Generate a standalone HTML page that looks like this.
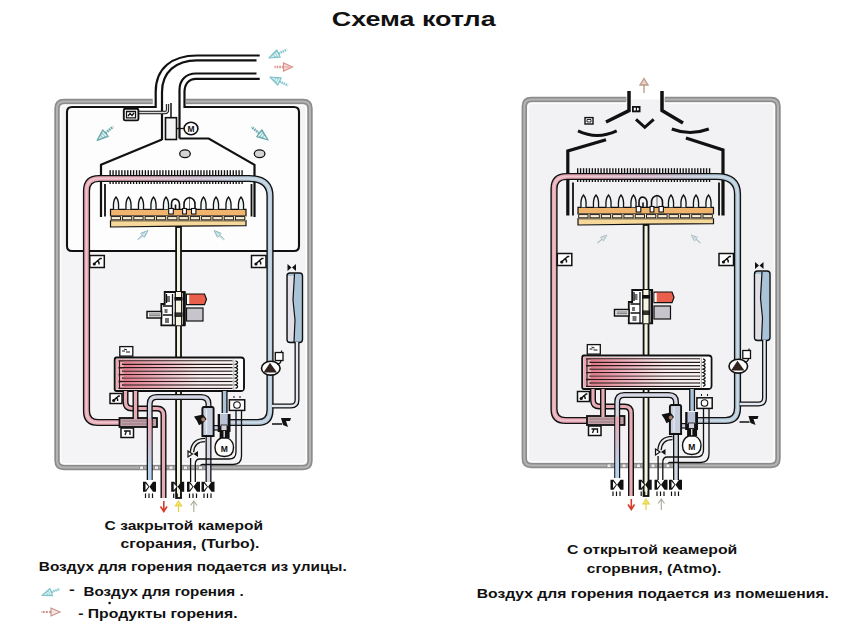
<!DOCTYPE html><html><head><meta charset="utf-8"><style>html,body{margin:0;padding:0;background:#fff;}svg{display:block}</style></head><body>
<svg width="850" height="633" viewBox="0 0 850 633">
<defs><linearGradient id="gpb" gradientUnits="userSpaceOnUse" x1="110" y1="0" x2="250" y2="0"><stop offset="0" stop-color="#e8aab6"/><stop offset="0.55" stop-color="#c8b2c4"/><stop offset="1" stop-color="#b6cbdb"/></linearGradient><linearGradient id="gpb2" gradientUnits="userSpaceOnUse" x1="0" y1="422" x2="0" y2="470"><stop offset="0" stop-color="#eba9b4"/><stop offset="1" stop-color="#b4d4f0"/></linearGradient><linearGradient id="ghe" gradientUnits="userSpaceOnUse" x1="116" y1="0" x2="244" y2="0"><stop offset="0" stop-color="#eaa8b2"/><stop offset="0.3" stop-color="#f0ccd2"/><stop offset="0.6" stop-color="#f8f0f2"/><stop offset="1" stop-color="#f8f8f8"/></linearGradient><linearGradient id="ghe2" gradientUnits="userSpaceOnUse" x1="116" y1="0" x2="244" y2="0"><stop offset="0" stop-color="#e06a7c"/><stop offset="0.35" stop-color="#f0b0bc"/><stop offset="0.65" stop-color="#f6eef0"/><stop offset="1" stop-color="#fafafa"/></linearGradient></defs>
<rect width="850" height="633" fill="#fff"/>
<rect x="57" y="101.5" width="253" height="366" rx="9" fill="#f4f4f6"/>
<path d="M186 101.5 H303 Q310 101.5 310 108.5 V460.5 Q310 467.5 303 467.5 H64 Q57 467.5 57 460.5 V108.5 Q57 101.5 64 101.5 H152.7" fill="none" stroke="#8c8c8c" stroke-width="5.4"/>
<path d="M186 101.5 H303 Q310 101.5 310 108.5 V460.5 Q310 467.5 303 467.5 H64 Q57 467.5 57 460.5 V108.5 Q57 101.5 64 101.5 H152.7" fill="none" stroke="#b4b4b4" stroke-width="2"/>
<rect x="60.8" y="105.3" width="245.4" height="358.4" rx="4" fill="none" stroke="#fcfcfc" stroke-width="1.6"/>
<path d="M184.5 107 H294 Q299 107 299 112 V246 Q299 251 294 251 H72 Q67 251 67 246 V112 Q67 107 72 107 H155.7 Z" fill="#fdfdfd" stroke="none"/>
<path d="M184.5 107 H294 Q299 107 299 112 V246 Q299 251 294 251 H72 Q67 251 67 246 V112 Q67 107 72 107 H155.7" fill="none" stroke="#111" stroke-width="2.1"/>
<rect x="156.8" y="102" width="26.6" height="10" fill="#fdfdfd"/>
<path d="M155.7 108 V92 C155.7 68 172 55.5 197 55.5 H259.7" fill="none" stroke="#111" stroke-width="2.2"/>
<path d="M162 140 V92 C162 72 176 60.3 197 60.3 H256.5" fill="none" stroke="#111" stroke-width="2.2"/>
<path d="M179.5 138.5 V90 C179.5 80 186 73.5 196 73.5 H256.5" fill="none" stroke="#111" stroke-width="2.2"/>
<path d="M184.5 108 V92 C184.5 84 189 78.8 196 78.8 H259.7" fill="none" stroke="#111" stroke-width="2.2"/>
<path d="M162 139.5 L101 164.8 V217" fill="none" stroke="#111" stroke-width="2.2"/>
<path d="M179.5 138.5 H208.7 L254.5 164.8 V217" fill="none" stroke="#111" stroke-width="2.2"/>
<path d="M105 184 V216.5 M251.5 184 V216.5" stroke="#111" stroke-width="1.8"/>
<rect x="165.5" y="117.7" width="11" height="21.8" fill="#f4f4f6" stroke="#111" stroke-width="1.6"/>
<path d="M171 103 V117.7" stroke="#111" stroke-width="1.5"/>
<path d="M138.2 112.5 H165 Q167.5 112.5 167.5 110 V104" fill="none" stroke="#111" stroke-width="3.3"/>
<path d="M138.2 112.5 H165 Q167.5 112.5 167.5 110 V104" fill="none" stroke="#ddd" stroke-width="1.3"/>
<rect x="123.8" y="108.8" width="14.6" height="11.6" rx="1.5" fill="#fff" stroke="#111" stroke-width="1.9"/>
<path d="M126.5 111.5 H135.5 V117.8 H126.5 Z" fill="none" stroke="#111" stroke-width="1.3"/><path d="M128 116 L130 113.5 L132 115.5 L134 113" fill="none" stroke="#111" stroke-width="1.3"/>
<path d="M176.5 128.5 H184" stroke="#111" stroke-width="1.3"/>
<ellipse cx="191" cy="128.5" rx="6.9" ry="6.2" fill="#fff" stroke="#111" stroke-width="1.6"/>
<text x="191" y="131.8" font-family="Liberation Sans" font-weight="bold" font-size="8.4" text-anchor="middle" fill="#111">M</text>
<ellipse cx="185" cy="153.7" rx="5.3" ry="3.9" fill="#d4d4d6" stroke="#111" stroke-width="1.3"/>
<ellipse cx="259.6" cy="153.7" rx="5.3" ry="3.9" fill="#d4d4d6" stroke="#111" stroke-width="1.3"/>
<g transform="translate(97.2,140.4) rotate(139) scale(1.0)"><path d="M0 0 L-11 -4.2 L-11 4.2 Z" fill="#e2f4f4" stroke="#6aaaae" stroke-width="1.3" stroke-linejoin="round"/><path d="M-3 -0.8 L-9 -2.6 M-3.5 0.9 L-9 2.6 M-6 -2 V2 M-8.5 -3 V3" stroke="#6aaaae" stroke-width="0.7"/><path d="M-11 0 H-21" stroke="#6aaaae" stroke-width="2.6" stroke-dasharray="1.6 0.8"/></g>
<g transform="translate(268,140) rotate(38) scale(1.0)"><path d="M0 0 L-11 -4.2 L-11 4.2 Z" fill="#e2f4f4" stroke="#6aaaae" stroke-width="1.3" stroke-linejoin="round"/><path d="M-3 -0.8 L-9 -2.6 M-3.5 0.9 L-9 2.6 M-6 -2 V2 M-8.5 -3 V3" stroke="#6aaaae" stroke-width="0.7"/><path d="M-11 0 H-21" stroke="#6aaaae" stroke-width="2.6" stroke-dasharray="1.6 0.8"/></g>
<g transform="translate(148,230.5) rotate(-42) scale(0.66)"><path d="M0 0 L-11 -4.2 L-11 4.2 Z" fill="#e2f4f4" stroke="#88b4bc" stroke-width="1.2" stroke-linejoin="round"/><path d="M-3 -0.8 L-9 -2.6 M-3.5 0.9 L-9 2.6 M-6 -2 V2 M-8.5 -3 V3" stroke="#88b4bc" stroke-width="0.7"/><path d="M-11 0 H-21" stroke="#88b4bc" stroke-width="2.5" stroke-dasharray="1.6 0.8"/></g>
<g transform="translate(214,230.5) rotate(-138) scale(0.66)"><path d="M0 0 L-11 -4.2 L-11 4.2 Z" fill="#e2f4f4" stroke="#88b4bc" stroke-width="1.2" stroke-linejoin="round"/><path d="M-3 -0.8 L-9 -2.6 M-3.5 0.9 L-9 2.6 M-6 -2 V2 M-8.5 -3 V3" stroke="#88b4bc" stroke-width="0.7"/><path d="M-11 0 H-21" stroke="#88b4bc" stroke-width="2.5" stroke-dasharray="1.6 0.8"/></g>
<g transform="translate(269,58) rotate(155) scale(0.95)"><path d="M0 0 L-11 -4.2 L-11 4.2 Z" fill="#e2f4f4" stroke="#7fc4cc" stroke-width="1.3" stroke-linejoin="round"/><path d="M-3 -0.8 L-9 -2.6 M-3.5 0.9 L-9 2.6 M-6 -2 V2 M-8.5 -3 V3" stroke="#7fc4cc" stroke-width="0.7"/><path d="M-11 0 H-21" stroke="#7fc4cc" stroke-width="2.6" stroke-dasharray="1.6 0.8"/></g>
<g transform="translate(292.5,67) scale(1)"><path d="M0 0 L-9 -4 L-9 4 Z" fill="#f8e0dc" stroke="#d89088" stroke-width="1.2"/><path d="M-3 0 H-8" stroke="#d89088" stroke-width="0.9"/><path d="M-9 0 H-18" stroke="#d89088" stroke-width="2.4" stroke-dasharray="1.6 1"/></g>
<g transform="translate(270,77) rotate(205) scale(0.95)"><path d="M0 0 L-11 -4.2 L-11 4.2 Z" fill="#e2f4f4" stroke="#7fc4cc" stroke-width="1.3" stroke-linejoin="round"/><path d="M-3 -0.8 L-9 -2.6 M-3.5 0.9 L-9 2.6 M-6 -2 V2 M-8.5 -3 V3" stroke="#7fc4cc" stroke-width="0.7"/><path d="M-11 0 H-21" stroke="#7fc4cc" stroke-width="2.6" stroke-dasharray="1.6 0.8"/></g>
<path d="M120 422.5 H98 Q86.5 422.5 86.5 411 V191 Q86.5 178.5 99 178.5 H249 Q270 178.5 270 196 V410 Q270 422.5 258 422.5 H228" fill="none" stroke="#111" stroke-width="7.2" stroke-linejoin="round"/>
<path d="M120 422.5 H98 Q86.5 422.5 86.5 411 V191 Q86.5 178.5 99 178.5 H249 Q270 178.5 270 196 V410 Q270 422.5 258 422.5 H228" fill="none" stroke="url(#gpb)" stroke-width="4.4" stroke-linejoin="round"/>
<path d="M120 422.5 H98 Q86.5 422.5 86.5 411 V191 Q86.5 178.5 99 178.5 H249 Q270 178.5 270 196 V410 Q270 422.5 258 422.5 H228" fill="none" stroke="#fff" stroke-opacity="0.35" stroke-width="1.3" stroke-linejoin="round"/>
<rect x="109.5" y="170.2" width="1.35" height="5.6" fill="#111"/>
<rect x="109.5" y="181" width="1.35" height="3" fill="#111"/>
<rect x="112.4" y="170.2" width="1.35" height="5.6" fill="#111"/>
<rect x="112.4" y="181" width="1.35" height="3" fill="#111"/>
<rect x="115.4" y="170.2" width="1.35" height="5.6" fill="#111"/>
<rect x="115.4" y="181" width="1.35" height="3" fill="#111"/>
<rect x="118.3" y="170.2" width="1.35" height="5.6" fill="#111"/>
<rect x="118.3" y="181" width="1.35" height="3" fill="#111"/>
<rect x="121.2" y="170.2" width="1.35" height="5.6" fill="#111"/>
<rect x="121.2" y="181" width="1.35" height="3" fill="#111"/>
<rect x="124.2" y="170.2" width="1.35" height="5.6" fill="#111"/>
<rect x="124.2" y="181" width="1.35" height="3" fill="#111"/>
<rect x="127.1" y="170.2" width="1.35" height="5.6" fill="#111"/>
<rect x="127.1" y="181" width="1.35" height="3" fill="#111"/>
<rect x="130.0" y="170.2" width="1.35" height="5.6" fill="#111"/>
<rect x="130.0" y="181" width="1.35" height="3" fill="#111"/>
<rect x="132.9" y="170.2" width="1.35" height="5.6" fill="#111"/>
<rect x="132.9" y="181" width="1.35" height="3" fill="#111"/>
<rect x="135.9" y="170.2" width="1.35" height="5.6" fill="#111"/>
<rect x="135.9" y="181" width="1.35" height="3" fill="#111"/>
<rect x="138.8" y="170.2" width="1.35" height="5.6" fill="#111"/>
<rect x="138.8" y="181" width="1.35" height="3" fill="#111"/>
<rect x="141.7" y="170.2" width="1.35" height="5.6" fill="#111"/>
<rect x="141.7" y="181" width="1.35" height="3" fill="#111"/>
<rect x="144.7" y="170.2" width="1.35" height="5.6" fill="#111"/>
<rect x="144.7" y="181" width="1.35" height="3" fill="#111"/>
<rect x="147.6" y="170.2" width="1.35" height="5.6" fill="#111"/>
<rect x="147.6" y="181" width="1.35" height="3" fill="#111"/>
<rect x="150.5" y="170.2" width="1.35" height="5.6" fill="#111"/>
<rect x="150.5" y="181" width="1.35" height="3" fill="#111"/>
<rect x="153.5" y="170.2" width="1.35" height="5.6" fill="#111"/>
<rect x="153.5" y="181" width="1.35" height="3" fill="#111"/>
<rect x="156.4" y="170.2" width="1.35" height="5.6" fill="#111"/>
<rect x="156.4" y="181" width="1.35" height="3" fill="#111"/>
<rect x="159.3" y="170.2" width="1.35" height="5.6" fill="#111"/>
<rect x="159.3" y="181" width="1.35" height="3" fill="#111"/>
<rect x="162.2" y="170.2" width="1.35" height="5.6" fill="#111"/>
<rect x="162.2" y="181" width="1.35" height="3" fill="#111"/>
<rect x="165.2" y="170.2" width="1.35" height="5.6" fill="#111"/>
<rect x="165.2" y="181" width="1.35" height="3" fill="#111"/>
<rect x="168.1" y="170.2" width="1.35" height="5.6" fill="#111"/>
<rect x="168.1" y="181" width="1.35" height="3" fill="#111"/>
<rect x="171.0" y="170.2" width="1.35" height="5.6" fill="#111"/>
<rect x="171.0" y="181" width="1.35" height="3" fill="#111"/>
<rect x="174.0" y="170.2" width="1.35" height="5.6" fill="#111"/>
<rect x="174.0" y="181" width="1.35" height="3" fill="#111"/>
<rect x="176.9" y="170.2" width="1.35" height="5.6" fill="#111"/>
<rect x="176.9" y="181" width="1.35" height="3" fill="#111"/>
<rect x="179.8" y="170.2" width="1.35" height="5.6" fill="#111"/>
<rect x="179.8" y="181" width="1.35" height="3" fill="#111"/>
<rect x="182.8" y="170.2" width="1.35" height="5.6" fill="#111"/>
<rect x="182.8" y="181" width="1.35" height="3" fill="#111"/>
<rect x="185.7" y="170.2" width="1.35" height="5.6" fill="#111"/>
<rect x="185.7" y="181" width="1.35" height="3" fill="#111"/>
<rect x="188.6" y="170.2" width="1.35" height="5.6" fill="#111"/>
<rect x="188.6" y="181" width="1.35" height="3" fill="#111"/>
<rect x="191.5" y="170.2" width="1.35" height="5.6" fill="#111"/>
<rect x="191.5" y="181" width="1.35" height="3" fill="#111"/>
<rect x="194.5" y="170.2" width="1.35" height="5.6" fill="#111"/>
<rect x="194.5" y="181" width="1.35" height="3" fill="#111"/>
<rect x="197.4" y="170.2" width="1.35" height="5.6" fill="#111"/>
<rect x="197.4" y="181" width="1.35" height="3" fill="#111"/>
<rect x="200.3" y="170.2" width="1.35" height="5.6" fill="#111"/>
<rect x="200.3" y="181" width="1.35" height="3" fill="#111"/>
<rect x="203.3" y="170.2" width="1.35" height="5.6" fill="#111"/>
<rect x="203.3" y="181" width="1.35" height="3" fill="#111"/>
<rect x="206.2" y="170.2" width="1.35" height="5.6" fill="#111"/>
<rect x="206.2" y="181" width="1.35" height="3" fill="#111"/>
<rect x="209.1" y="170.2" width="1.35" height="5.6" fill="#111"/>
<rect x="209.1" y="181" width="1.35" height="3" fill="#111"/>
<rect x="212.1" y="170.2" width="1.35" height="5.6" fill="#111"/>
<rect x="212.1" y="181" width="1.35" height="3" fill="#111"/>
<rect x="215.0" y="170.2" width="1.35" height="5.6" fill="#111"/>
<rect x="215.0" y="181" width="1.35" height="3" fill="#111"/>
<rect x="217.9" y="170.2" width="1.35" height="5.6" fill="#111"/>
<rect x="217.9" y="181" width="1.35" height="3" fill="#111"/>
<rect x="220.8" y="170.2" width="1.35" height="5.6" fill="#111"/>
<rect x="220.8" y="181" width="1.35" height="3" fill="#111"/>
<rect x="223.8" y="170.2" width="1.35" height="5.6" fill="#111"/>
<rect x="223.8" y="181" width="1.35" height="3" fill="#111"/>
<rect x="226.7" y="170.2" width="1.35" height="5.6" fill="#111"/>
<rect x="226.7" y="181" width="1.35" height="3" fill="#111"/>
<rect x="229.6" y="170.2" width="1.35" height="5.6" fill="#111"/>
<rect x="229.6" y="181" width="1.35" height="3" fill="#111"/>
<rect x="232.6" y="170.2" width="1.35" height="5.6" fill="#111"/>
<rect x="232.6" y="181" width="1.35" height="3" fill="#111"/>
<rect x="235.5" y="170.2" width="1.35" height="5.6" fill="#111"/>
<rect x="235.5" y="181" width="1.35" height="3" fill="#111"/>
<rect x="238.4" y="170.2" width="1.35" height="5.6" fill="#111"/>
<rect x="238.4" y="181" width="1.35" height="3" fill="#111"/>
<rect x="241.4" y="170.2" width="1.35" height="5.6" fill="#111"/>
<rect x="241.4" y="181" width="1.35" height="3" fill="#111"/>
<path d="M110.5 209.3 H246 V215.8 H110.5 Z" fill="#f1b46c" stroke="#111" stroke-width="1.2"/>
<path d="M110.5 220.6 H246 V225.6 L180 226.2 L110.5 227 Z" fill="#f6d99a" stroke="#111" stroke-width="1.2"/>
<rect x="110.5" y="215.8" width="135.5" height="4.8" fill="#f8dcae"/>
<rect x="111.2" y="216.6" width="9.3" height="3.2" fill="#fbeed8" stroke="#111" stroke-width="0.9"/>
<rect x="122.5" y="216.6" width="9.3" height="3.2" fill="#fbeed8" stroke="#111" stroke-width="0.9"/>
<rect x="133.8" y="216.6" width="9.3" height="3.2" fill="#fbeed8" stroke="#111" stroke-width="0.9"/>
<rect x="145.1" y="216.6" width="9.3" height="3.2" fill="#fbeed8" stroke="#111" stroke-width="0.9"/>
<rect x="156.4" y="216.6" width="9.3" height="3.2" fill="#fbeed8" stroke="#111" stroke-width="0.9"/>
<rect x="167.7" y="216.6" width="9.3" height="3.2" fill="#fbeed8" stroke="#111" stroke-width="0.9"/>
<rect x="179.0" y="216.6" width="9.3" height="3.2" fill="#fbeed8" stroke="#111" stroke-width="0.9"/>
<rect x="190.3" y="216.6" width="9.3" height="3.2" fill="#fbeed8" stroke="#111" stroke-width="0.9"/>
<rect x="201.6" y="216.6" width="9.3" height="3.2" fill="#fbeed8" stroke="#111" stroke-width="0.9"/>
<rect x="212.9" y="216.6" width="9.3" height="3.2" fill="#fbeed8" stroke="#111" stroke-width="0.9"/>
<rect x="224.2" y="216.6" width="9.3" height="3.2" fill="#fbeed8" stroke="#111" stroke-width="0.9"/>
<rect x="235.5" y="216.6" width="9.3" height="3.2" fill="#fbeed8" stroke="#111" stroke-width="0.9"/>
<path d="M113.5 209.3 Q112.8 200.5 116.0 197 Q119.2 200.5 118.5 209.3" fill="#eef6f8" stroke="#111" stroke-width="1.3"/>
<path d="M126.0 209.3 Q125.3 200.5 128.5 197 Q131.7 200.5 131.0 209.3" fill="#eef6f8" stroke="#111" stroke-width="1.3"/>
<path d="M138.5 209.3 Q137.8 200.5 141.0 197 Q144.2 200.5 143.5 209.3" fill="#eef6f8" stroke="#111" stroke-width="1.3"/>
<path d="M151.0 209.3 Q150.3 200.5 153.5 197 Q156.7 200.5 156.0 209.3" fill="#eef6f8" stroke="#111" stroke-width="1.3"/>
<path d="M163.5 209.3 Q162.8 200.5 166.0 197 Q169.2 200.5 168.5 209.3" fill="#eef6f8" stroke="#111" stroke-width="1.3"/>
<path d="M201.0 209.3 Q200.3 200.5 203.5 197 Q206.7 200.5 206.0 209.3" fill="#eef6f8" stroke="#111" stroke-width="1.3"/>
<path d="M213.5 209.3 Q212.8 200.5 216.0 197 Q219.2 200.5 218.5 209.3" fill="#eef6f8" stroke="#111" stroke-width="1.3"/>
<path d="M226.0 209.3 Q225.3 200.5 228.5 197 Q231.7 200.5 231.0 209.3" fill="#eef6f8" stroke="#111" stroke-width="1.3"/>
<path d="M238.5 209.3 Q237.8 200.5 241.0 197 Q244.2 200.5 243.5 209.3" fill="#eef6f8" stroke="#111" stroke-width="1.3"/>
<path d="M171.5 209 V204 Q171.5 199.5 175 199 Q179 199.5 179.5 204 V209" fill="none" stroke="#111" stroke-width="1.6"/>
<path d="M175.5 209 V204.5" stroke="#111" stroke-width="1.6"/>
<path d="M184 209 V204.5 Q184 198.5 189.5 197.5 Q195 198.5 195 204.5 V209" fill="none" stroke="#111" stroke-width="1.6"/>
<path d="M189.5 197.5 V209" stroke="#111" stroke-width="1" opacity="0.6"/>
<rect x="168.7" y="208.5" width="4.6" height="5.5" fill="#fff" stroke="#111" stroke-width="1.1"/>
<rect x="182.6" y="208.5" width="3.8" height="5.5" fill="#fff" stroke="#111" stroke-width="1.1"/>
<rect x="191.5" y="208.5" width="4.4" height="5.5" fill="#fff" stroke="#111" stroke-width="1.1"/>
<rect x="176.1" y="227" width="4.9" height="271" fill="#f6f4e2" stroke="#111" stroke-width="1.8"/>
<path d="M164.7 292 H184.7 V325.3 H161.3 V304 H164.7 Z" fill="#fff" stroke="#111" stroke-width="1.8"/>
<path d="M166.5 294 V303 M163 306 H173 M163 315 H172 M172.5 294 V325" stroke="#111" stroke-width="1.3"/>
<path d="M167 296 h3 v6 h-3 Z M164.5 309 h3 v4 h-3 Z M165 318 h4 v5 h-4 Z" fill="#111" opacity="0.6"/>
<rect x="175.3" y="292" width="6.4" height="33.3" fill="#f6f4e2"/>
<path d="M175.3 292 V325.3 M181.7 292 V325.3" stroke="#111" stroke-width="1.3"/>
<rect x="174.5" y="297" width="8" height="3.6" fill="#111"/>
<rect x="174.5" y="312.4" width="8" height="4.6" fill="#111" opacity="0.85"/>
<rect x="183" y="292" width="2.5" height="33.3" fill="#111"/>
<rect x="147" y="311.5" width="14.5" height="6.5" fill="#fff" stroke="#111" stroke-width="1.5"/>
<path d="M149 314 H160 M149 315.8 H160" stroke="#111" stroke-width="0.7"/>
<path d="M186.5 294 H204.5 L206.5 299.3 L204.5 304.7 H186.5 Z" fill="#ea5f4c" stroke="#111" stroke-width="1.2"/>
<rect x="187" y="295" width="2.2" height="9" fill="#fff"/>
<rect x="186.5" y="308" width="16.5" height="13" fill="#c8c4cb" stroke="#111" stroke-width="1.2"/>
<rect x="287" y="273" width="15.5" height="69.5" rx="3" fill="#a9c4d8" stroke="#111" stroke-width="1.4"/>
<path d="M288 276 H294.5 L293 300 L295 320 L294 341 H288 Z" fill="#e2dfe6"/>
<path d="M294.5 274 L293 300 L295 320 L294 342" fill="none" stroke="#111" stroke-width="1.2"/>
<path d="M287.5 264 L291.5 267.5 L287.5 271 Z M296 264 L292 267.5 L296 271 Z" fill="#111"/>
<path d="M297 342 V400 Q297 406 291 406 H272" fill="none" stroke="#111" stroke-width="5" stroke-linejoin="round" />
<path d="M297 342 V400 Q297 406 291 406 H272" fill="none" stroke="#e4e8f0" stroke-width="2.4" stroke-linejoin="round" />
<path d="M272 424 H282" stroke="#111" stroke-width="1.5"/>
<path d="M281 418 L291 418 L290 421 L286 421 L288 427 L283 425 Z" fill="#111"/>
<ellipse cx="270.8" cy="368.2" rx="9.3" ry="6.9" fill="#fff" stroke="#111" stroke-width="1.6"/>
<path d="M263.5 372.5 L270 362.8 L277 372.5 Z" fill="#33231f"/>
<path d="M277 364 Q281 364 281 360" fill="none" stroke="#111" stroke-width="1.3"/>
<rect x="275.3" y="352.5" width="7.7" height="8" fill="#fff" stroke="#111" stroke-width="1.3"/>
<path d="M281.5 352.5 V350.5" stroke="#111" stroke-width="1.2"/>
<path d="M116.5 357.5 H241 Q244 357.5 244 360.5 V387.5 Q244 391 240.5 391 H116.5 Q114.7 391 114.7 389 V360 Q114.7 357.5 116.5 357.5 Z" fill="#fff" stroke="#111" stroke-width="1.9"/>
<rect x="116" y="359" width="126.5" height="30.5" fill="url(#ghe)"/>
<path d="M118.5 360.80 H232.5" stroke="#2a1818" stroke-width="1.35"/>
<path d="M122 364.25 H232.5" stroke="#2a1818" stroke-width="1.35"/>
<path d="M118.5 367.70 H232.5" stroke="#2a1818" stroke-width="1.35"/>
<path d="M122 371.15 H232.5" stroke="#2a1818" stroke-width="1.35"/>
<path d="M118.5 374.60 H232.5" stroke="#2a1818" stroke-width="1.35"/>
<path d="M122 378.05 H232.5" stroke="#2a1818" stroke-width="1.35"/>
<path d="M118.5 381.50 H232.5" stroke="#2a1818" stroke-width="1.35"/>
<path d="M122 384.95 H232.5" stroke="#2a1818" stroke-width="1.35"/>
<path d="M118.5 388.40 H232.5" stroke="#2a1818" stroke-width="1.35"/>
<path d="M123.5 362.50 H232" stroke="url(#ghe2)" stroke-width="1.9"/>
<path d="M123.5 365.95 H232" stroke="url(#ghe2)" stroke-width="1.9"/>
<path d="M123.5 369.40 H232" stroke="url(#ghe2)" stroke-width="1.9"/>
<path d="M123.5 372.85 H232" stroke="url(#ghe2)" stroke-width="1.9"/>
<path d="M123.5 376.30 H232" stroke="url(#ghe2)" stroke-width="1.9"/>
<path d="M123.5 379.75 H232" stroke="url(#ghe2)" stroke-width="1.9"/>
<path d="M123.5 383.20 H232" stroke="url(#ghe2)" stroke-width="1.9"/>
<path d="M123.5 386.65 H232" stroke="url(#ghe2)" stroke-width="1.9"/>
<path d="M119.5 361 V389" stroke="#2a1818" stroke-width="1.1"/>
<rect x="233" y="359" width="9.8" height="31" fill="#fff"/>
<path d="M233.8 359.5 V391" stroke="#111" stroke-width="0.7" opacity="0.5"/>
<path d="M235.5 360.8 Q239.8 362.50 235.5 364.25 Q239.8 365.95 235.5 367.70 Q239.8 369.40 235.5 371.15 Q239.8 372.85 235.5 374.60 Q239.8 376.30 235.5 378.05 Q239.8 379.75 235.5 381.50 Q239.8 383.20 235.5 384.95 Q239.8 386.65 235.5 388.40" fill="none" stroke="#111" stroke-width="1.3"/>
<rect x="119.8" y="346.6" width="13" height="9.5" fill="#fff" stroke="#111" stroke-width="1.3"/>
<path d="M122 351 h3 M126 352 h4 M124 349 l3 1" stroke="#111" stroke-width="1"/>
<rect x="119.5" y="418" width="37.5" height="9" fill="#c2a0a8" stroke="#111" stroke-width="1.8"/>
<path d="M122 421 H154 M122 424 H154" stroke="#8a7078" stroke-width="0.8"/>
<rect x="121" y="428" width="12.5" height="9.5" fill="#fff" stroke="#111" stroke-width="1.5"/>
<path d="M124 431 H130 V435 M126.5 431 L125 435" fill="none" stroke="#111" stroke-width="1.3"/>
<path d="M125.5 391 V402 Q125.5 408.5 132 408.5 H157 Q163.5 408.5 163.5 415 V498" fill="none" stroke="#111" stroke-width="6" stroke-linejoin="round" />
<path d="M125.5 391 V402 Q125.5 408.5 132 408.5 H157 Q163.5 408.5 163.5 415 V498" fill="none" stroke="#e8acb7" stroke-width="3.2" stroke-linejoin="round" />
<path d="M135.5 391 V419" fill="none" stroke="#111" stroke-width="6" stroke-linejoin="round" />
<path d="M135.5 391 V419" fill="none" stroke="#e8acb7" stroke-width="3.2" stroke-linejoin="round" />
<path d="M149.7 480 V404 Q149.7 397 156.7 397 H201 Q208.5 397 208.5 404 V482" fill="none" stroke="#111" stroke-width="6" stroke-linejoin="round" />
<path d="M149.7 480 V404 Q149.7 397 156.7 397 H201 Q208.5 397 208.5 404 V482" fill="none" stroke="#d4d6e4" stroke-width="3.4" stroke-linejoin="round" />
<path d="M149.7 418.5 V480" stroke="url(#gpb2)" stroke-width="3.4"/>
<path d="M224.6 391 V413" fill="none" stroke="#111" stroke-width="6" stroke-linejoin="round" />
<path d="M224.6 391 V413" fill="none" stroke="#a9c4d8" stroke-width="3.4" stroke-linejoin="round" />
<path d="M210 427.8 H221" fill="none" stroke="#111" stroke-width="5.6" stroke-linejoin="round" />
<path d="M210 427.8 H221" fill="none" stroke="#c8d0e0" stroke-width="3.2" stroke-linejoin="round" />
<path d="M204 407 H212 Q213.6 407 213.6 409 V436 H202.4 V409 Q202.4 407 204 407 Z" fill="#c6cedd" stroke="#111" stroke-width="1.9"/>
<path d="M206.5 409 V434" stroke="#e6eaf2" stroke-width="1.3"/>
<path d="M194 416.5 L203 414.5 L206.5 419 L203 423 L199 425.3 L197 421 Z" fill="#111"/>
<circle cx="203.2" cy="419.5" r="1.9" fill="#a87a6a"/>
<path d="M217.7 414 H230.5 V432 H229.6 V438 H219.6 V432 H217.7 Z" fill="#111"/>
<rect x="220" y="414" width="7.7" height="12" fill="#b8c2d4"/>
<rect x="221" y="425" width="6" height="5.5" fill="#d6d0dc" stroke="#111" stroke-width="0.8"/>
<rect x="223.5" y="431" width="1.4" height="8" fill="#ddd"/>
<path d="M221 438 Q215 441 215 447.5 Q215 456.5 224.3 456.5 Q233.5 456.5 233.5 447.5 Q233.5 441 227.6 438 Z" fill="#fff" stroke="#111" stroke-width="1.4"/>
<text x="224.3" y="451.5" font-family="Liberation Sans" font-weight="bold" font-size="8.5" text-anchor="middle" fill="#111">M</text>
<rect x="229.4" y="399.8" width="15.3" height="10.6" fill="#fff" stroke="#111" stroke-width="1.5"/>
<circle cx="237" cy="405" r="3.3" fill="none" stroke="#111" stroke-width="1.1"/>
<path d="M234 396 V398 M240 396 V398" stroke="#111" stroke-width="1"/>
<path d="M236 410.5 V452 Q236 459 229 459 H200 Q195.3 459 195.3 464 V482" fill="none" stroke="#111" stroke-width="1.3"/>
<path d="M241.5 410.5 V456 Q241.5 464.5 233 464.5 H202 Q200 464.5 200 470" fill="none" stroke="#111" stroke-width="1.3"/>
<path d="M190.6 482 V458" fill="none" stroke="#111" stroke-width="1.3"/>
<path d="M205 440 Q193 440 192 452" fill="none" stroke="#111" stroke-width="4.5"/>
<path d="M205 440 Q193 440 192 452" fill="none" stroke="#eee" stroke-width="2"/>
<path d="M188 451 L192.5 454 L188 457 Z" fill="#fff" stroke="#111" stroke-width="1.2"/>
<path d="M198 451 L193.5 454 L198 457 Z" fill="#111"/>
<rect x="89.8" y="255.5" width="14.5" height="12" fill="#fff" stroke="#111" stroke-width="1.5"/>
<path d="M93.3 264.5 L100.3 258.5 H101.8 M96.8 261.0 q3.0 0.5 2.0 3.5" fill="none" stroke="#111" stroke-width="1.5"/>
<circle cx="94.3" cy="264.0" r="1.6" fill="#111"/>
<rect x="251.5" y="255.5" width="14.5" height="12" fill="#fff" stroke="#111" stroke-width="1.5"/>
<path d="M255.0 264.5 L262.0 258.5 H263.5 M258.5 261.0 q3.0 0.5 2.0 3.5" fill="none" stroke="#111" stroke-width="1.5"/>
<circle cx="256.0" cy="264.0" r="1.6" fill="#111"/>
<rect x="110" y="393.5" width="12" height="10" fill="#fff" stroke="#111" stroke-width="1.5"/>
<path d="M112.9 400.9 L118.7 396.0 H119.9 M115.8 398.1 q2.5 0.4 1.7 2.9" fill="none" stroke="#111" stroke-width="1.5"/>
<circle cx="113.7" cy="400.5" r="1.6" fill="#111"/>
<rect x="139.5" y="466" width="4" height="3.4" fill="#f0f0f0" stroke="#8c8c8c" stroke-width="0.9"/>
<rect x="154.5" y="466" width="4" height="3.4" fill="#f0f0f0" stroke="#8c8c8c" stroke-width="0.9"/>
<rect x="169" y="466" width="4" height="3.4" fill="#f0f0f0" stroke="#8c8c8c" stroke-width="0.9"/>
<rect x="183.5" y="466" width="4" height="3.4" fill="#f0f0f0" stroke="#8c8c8c" stroke-width="0.9"/>
<rect x="198.4" y="466" width="4" height="3.4" fill="#f0f0f0" stroke="#8c8c8c" stroke-width="0.9"/>
<path d="M143.0 481.8 h3 l3.5 5 l-3.5 5 h-3 Z M156.0 481.8 h-3 l-3.5 5 l3.5 5 h3 Z" fill="#111"/>
<path d="M145.5 483.3 L148.5 486.8 L145.5 490.3 Z" fill="#fff"/>
<path d="M145.5 493.5 V498 M149.0 493.5 V498 M152.5 493.5 V498" stroke="#111" stroke-width="1.2"/>
<path d="M171.2 481.8 h3 l3.5 5 l-3.5 5 h-3 Z M184.2 481.8 h-3 l-3.5 5 l3.5 5 h3 Z" fill="#111"/>
<path d="M173.7 483.3 L176.7 486.8 L173.7 490.3 Z" fill="#fff"/>
<path d="M173.7 493.5 V498 M177.2 493.5 V498 M180.7 493.5 V498" stroke="#111" stroke-width="1.2"/>
<path d="M187.0 481.8 h3 l3.5 5 l-3.5 5 h-3 Z M200.0 481.8 h-3 l-3.5 5 l3.5 5 h3 Z" fill="#111"/>
<path d="M189.5 483.3 L192.5 486.8 L189.5 490.3 Z" fill="#fff"/>
<path d="M189.5 493.5 V498 M193.0 493.5 V498 M196.5 493.5 V498" stroke="#111" stroke-width="1.2"/>
<path d="M201.5 481.8 h3 l3.5 5 l-3.5 5 h-3 Z M214.5 481.8 h-3 l-3.5 5 l3.5 5 h3 Z" fill="#111"/>
<path d="M204 483.3 L207 486.8 L204 490.3 Z" fill="#fff"/>
<path d="M204 493.5 V498 M207.5 493.5 V498 M211 493.5 V498" stroke="#111" stroke-width="1.2"/>
<path d="M163.8 501 V510 M160.5 506.5 L163.8 511.5 L167 506.5" fill="none" stroke="#d83a28" stroke-width="1.6"/>
<path d="M178.5 512 V504 M175.3 506 L178.5 501 L181.7 506 Z" fill="#f6ec90" stroke="#e8d040" stroke-width="1.2"/>
<path d="M193.8 512 V502 M190.6 505.5 L193.8 501 L197 505.5" fill="none" stroke="#b0b0a0" stroke-width="1.2"/>
<rect x="524.3" y="99.5" width="253.7" height="366" rx="10" fill="#f2f2f4"/>
<path d="M664.7 99.5 H771 Q778 99.5 778 106.5 V458.5 Q778 465.5 771 465.5 H531.3 Q524.3 465.5 524.3 458.5 V106.5 Q524.3 99.5 531.3 99.5 H626.4" fill="none" stroke="#8c8c8c" stroke-width="5.4"/>
<path d="M664.7 99.5 H771 Q778 99.5 778 106.5 V458.5 Q778 465.5 771 465.5 H531.3 Q524.3 465.5 524.3 458.5 V106.5 Q524.3 99.5 531.3 99.5 H626.4" fill="none" stroke="#b4b4b4" stroke-width="2"/>
<rect x="528.1" y="103.3" width="246.1" height="358.4" rx="4" fill="none" stroke="#fcfcfc" stroke-width="1.6"/>
<rect x="626.5" y="101" width="38" height="4" fill="#f2f2f4"/>
<path d="M629 91 V110.6 L606 122" fill="none" stroke="#111" stroke-width="3.5"/>
<path d="M662 91 V110.6 L683 123" fill="none" stroke="#111" stroke-width="3.5"/>
<path d="M578 130.8 Q597 140 616.7 130.8" fill="none" stroke="#111" stroke-width="3"/>
<path d="M671.8 129 Q690 136 708.8 129" fill="none" stroke="#111" stroke-width="3"/>
<path d="M636 119.4 L644.8 127.3 L653.7 119.4" fill="none" stroke="#111" stroke-width="3"/>
<path d="M606 139.7 L567.8 151 V215.5" fill="none" stroke="#111" stroke-width="3.2"/>
<path d="M685.9 138 L723 150 V215.5" fill="none" stroke="#111" stroke-width="3.2"/>
<path d="M573 182.5 V215.5 M719 182.5 V215.5" stroke="#111" stroke-width="1.8"/>
<rect x="585" y="117.6" width="8" height="6.4" fill="#fff" stroke="#111" stroke-width="1.4"/>
<path d="M587 119.5 h4 v2.5 h-4 Z" fill="none" stroke="#111" stroke-width="0.9"/>
<rect x="632" y="106" width="8.5" height="6.3" fill="#111"/>
<path d="M633.8 107.8 h2 v2.7 h-2 Z M637 107.8 q2 0 2 1.4 q0 1.4 -2 1.4 Z" fill="#fff"/>
<path d="M644 93 V84 M640 85 L644 78.5 L648 85 Z" fill="#e8d4cc" stroke="#c09c8c" stroke-width="1.4"/>
<g transform="translate(607,235) rotate(-40) scale(0.6)"><path d="M0 0 L-11 -4.2 L-11 4.2 Z" fill="#e2f4f4" stroke="#a0b0b8" stroke-width="1.0" stroke-linejoin="round"/><path d="M-3 -0.8 L-9 -2.6 M-3.5 0.9 L-9 2.6 M-6 -2 V2 M-8.5 -3 V3" stroke="#a0b0b8" stroke-width="0.7"/><path d="M-11 0 H-21" stroke="#a0b0b8" stroke-width="2.3" stroke-dasharray="1.6 0.8"/></g>
<g transform="translate(691,235) rotate(-140) scale(0.6)"><path d="M0 0 L-11 -4.2 L-11 4.2 Z" fill="#e2f4f4" stroke="#a0b0b8" stroke-width="1.0" stroke-linejoin="round"/><path d="M-3 -0.8 L-9 -2.6 M-3.5 0.9 L-9 2.6 M-6 -2 V2 M-8.5 -3 V3" stroke="#a0b0b8" stroke-width="0.7"/><path d="M-11 0 H-21" stroke="#a0b0b8" stroke-width="2.3" stroke-dasharray="1.6 0.8"/></g>
<g transform="translate(467.5,-2)">
<path d="M120 422.5 H98 Q86.5 422.5 86.5 411 V191 Q86.5 178.5 99 178.5 H249 Q270 178.5 270 196 V410 Q270 422.5 258 422.5 H228" fill="none" stroke="#111" stroke-width="7.2" stroke-linejoin="round"/>
<path d="M120 422.5 H98 Q86.5 422.5 86.5 411 V191 Q86.5 178.5 99 178.5 H249 Q270 178.5 270 196 V410 Q270 422.5 258 422.5 H228" fill="none" stroke="url(#gpb)" stroke-width="4.4" stroke-linejoin="round"/>
<path d="M120 422.5 H98 Q86.5 422.5 86.5 411 V191 Q86.5 178.5 99 178.5 H249 Q270 178.5 270 196 V410 Q270 422.5 258 422.5 H228" fill="none" stroke="#fff" stroke-opacity="0.35" stroke-width="1.3" stroke-linejoin="round"/>
<rect x="109.5" y="170.2" width="1.35" height="5.6" fill="#111"/>
<rect x="109.5" y="181" width="1.35" height="3" fill="#111"/>
<rect x="112.4" y="170.2" width="1.35" height="5.6" fill="#111"/>
<rect x="112.4" y="181" width="1.35" height="3" fill="#111"/>
<rect x="115.4" y="170.2" width="1.35" height="5.6" fill="#111"/>
<rect x="115.4" y="181" width="1.35" height="3" fill="#111"/>
<rect x="118.3" y="170.2" width="1.35" height="5.6" fill="#111"/>
<rect x="118.3" y="181" width="1.35" height="3" fill="#111"/>
<rect x="121.2" y="170.2" width="1.35" height="5.6" fill="#111"/>
<rect x="121.2" y="181" width="1.35" height="3" fill="#111"/>
<rect x="124.2" y="170.2" width="1.35" height="5.6" fill="#111"/>
<rect x="124.2" y="181" width="1.35" height="3" fill="#111"/>
<rect x="127.1" y="170.2" width="1.35" height="5.6" fill="#111"/>
<rect x="127.1" y="181" width="1.35" height="3" fill="#111"/>
<rect x="130.0" y="170.2" width="1.35" height="5.6" fill="#111"/>
<rect x="130.0" y="181" width="1.35" height="3" fill="#111"/>
<rect x="132.9" y="170.2" width="1.35" height="5.6" fill="#111"/>
<rect x="132.9" y="181" width="1.35" height="3" fill="#111"/>
<rect x="135.9" y="170.2" width="1.35" height="5.6" fill="#111"/>
<rect x="135.9" y="181" width="1.35" height="3" fill="#111"/>
<rect x="138.8" y="170.2" width="1.35" height="5.6" fill="#111"/>
<rect x="138.8" y="181" width="1.35" height="3" fill="#111"/>
<rect x="141.7" y="170.2" width="1.35" height="5.6" fill="#111"/>
<rect x="141.7" y="181" width="1.35" height="3" fill="#111"/>
<rect x="144.7" y="170.2" width="1.35" height="5.6" fill="#111"/>
<rect x="144.7" y="181" width="1.35" height="3" fill="#111"/>
<rect x="147.6" y="170.2" width="1.35" height="5.6" fill="#111"/>
<rect x="147.6" y="181" width="1.35" height="3" fill="#111"/>
<rect x="150.5" y="170.2" width="1.35" height="5.6" fill="#111"/>
<rect x="150.5" y="181" width="1.35" height="3" fill="#111"/>
<rect x="153.5" y="170.2" width="1.35" height="5.6" fill="#111"/>
<rect x="153.5" y="181" width="1.35" height="3" fill="#111"/>
<rect x="156.4" y="170.2" width="1.35" height="5.6" fill="#111"/>
<rect x="156.4" y="181" width="1.35" height="3" fill="#111"/>
<rect x="159.3" y="170.2" width="1.35" height="5.6" fill="#111"/>
<rect x="159.3" y="181" width="1.35" height="3" fill="#111"/>
<rect x="162.2" y="170.2" width="1.35" height="5.6" fill="#111"/>
<rect x="162.2" y="181" width="1.35" height="3" fill="#111"/>
<rect x="165.2" y="170.2" width="1.35" height="5.6" fill="#111"/>
<rect x="165.2" y="181" width="1.35" height="3" fill="#111"/>
<rect x="168.1" y="170.2" width="1.35" height="5.6" fill="#111"/>
<rect x="168.1" y="181" width="1.35" height="3" fill="#111"/>
<rect x="171.0" y="170.2" width="1.35" height="5.6" fill="#111"/>
<rect x="171.0" y="181" width="1.35" height="3" fill="#111"/>
<rect x="174.0" y="170.2" width="1.35" height="5.6" fill="#111"/>
<rect x="174.0" y="181" width="1.35" height="3" fill="#111"/>
<rect x="176.9" y="170.2" width="1.35" height="5.6" fill="#111"/>
<rect x="176.9" y="181" width="1.35" height="3" fill="#111"/>
<rect x="179.8" y="170.2" width="1.35" height="5.6" fill="#111"/>
<rect x="179.8" y="181" width="1.35" height="3" fill="#111"/>
<rect x="182.8" y="170.2" width="1.35" height="5.6" fill="#111"/>
<rect x="182.8" y="181" width="1.35" height="3" fill="#111"/>
<rect x="185.7" y="170.2" width="1.35" height="5.6" fill="#111"/>
<rect x="185.7" y="181" width="1.35" height="3" fill="#111"/>
<rect x="188.6" y="170.2" width="1.35" height="5.6" fill="#111"/>
<rect x="188.6" y="181" width="1.35" height="3" fill="#111"/>
<rect x="191.5" y="170.2" width="1.35" height="5.6" fill="#111"/>
<rect x="191.5" y="181" width="1.35" height="3" fill="#111"/>
<rect x="194.5" y="170.2" width="1.35" height="5.6" fill="#111"/>
<rect x="194.5" y="181" width="1.35" height="3" fill="#111"/>
<rect x="197.4" y="170.2" width="1.35" height="5.6" fill="#111"/>
<rect x="197.4" y="181" width="1.35" height="3" fill="#111"/>
<rect x="200.3" y="170.2" width="1.35" height="5.6" fill="#111"/>
<rect x="200.3" y="181" width="1.35" height="3" fill="#111"/>
<rect x="203.3" y="170.2" width="1.35" height="5.6" fill="#111"/>
<rect x="203.3" y="181" width="1.35" height="3" fill="#111"/>
<rect x="206.2" y="170.2" width="1.35" height="5.6" fill="#111"/>
<rect x="206.2" y="181" width="1.35" height="3" fill="#111"/>
<rect x="209.1" y="170.2" width="1.35" height="5.6" fill="#111"/>
<rect x="209.1" y="181" width="1.35" height="3" fill="#111"/>
<rect x="212.1" y="170.2" width="1.35" height="5.6" fill="#111"/>
<rect x="212.1" y="181" width="1.35" height="3" fill="#111"/>
<rect x="215.0" y="170.2" width="1.35" height="5.6" fill="#111"/>
<rect x="215.0" y="181" width="1.35" height="3" fill="#111"/>
<rect x="217.9" y="170.2" width="1.35" height="5.6" fill="#111"/>
<rect x="217.9" y="181" width="1.35" height="3" fill="#111"/>
<rect x="220.8" y="170.2" width="1.35" height="5.6" fill="#111"/>
<rect x="220.8" y="181" width="1.35" height="3" fill="#111"/>
<rect x="223.8" y="170.2" width="1.35" height="5.6" fill="#111"/>
<rect x="223.8" y="181" width="1.35" height="3" fill="#111"/>
<rect x="226.7" y="170.2" width="1.35" height="5.6" fill="#111"/>
<rect x="226.7" y="181" width="1.35" height="3" fill="#111"/>
<rect x="229.6" y="170.2" width="1.35" height="5.6" fill="#111"/>
<rect x="229.6" y="181" width="1.35" height="3" fill="#111"/>
<rect x="232.6" y="170.2" width="1.35" height="5.6" fill="#111"/>
<rect x="232.6" y="181" width="1.35" height="3" fill="#111"/>
<rect x="235.5" y="170.2" width="1.35" height="5.6" fill="#111"/>
<rect x="235.5" y="181" width="1.35" height="3" fill="#111"/>
<rect x="238.4" y="170.2" width="1.35" height="5.6" fill="#111"/>
<rect x="238.4" y="181" width="1.35" height="3" fill="#111"/>
<rect x="241.4" y="170.2" width="1.35" height="5.6" fill="#111"/>
<rect x="241.4" y="181" width="1.35" height="3" fill="#111"/>
<path d="M110.5 209.3 H246 V215.8 H110.5 Z" fill="#f1b46c" stroke="#111" stroke-width="1.2"/>
<path d="M110.5 220.6 H246 V225.6 L180 226.2 L110.5 227 Z" fill="#f6d99a" stroke="#111" stroke-width="1.2"/>
<rect x="110.5" y="215.8" width="135.5" height="4.8" fill="#f8dcae"/>
<rect x="111.2" y="216.6" width="9.3" height="3.2" fill="#fbeed8" stroke="#111" stroke-width="0.9"/>
<rect x="122.5" y="216.6" width="9.3" height="3.2" fill="#fbeed8" stroke="#111" stroke-width="0.9"/>
<rect x="133.8" y="216.6" width="9.3" height="3.2" fill="#fbeed8" stroke="#111" stroke-width="0.9"/>
<rect x="145.1" y="216.6" width="9.3" height="3.2" fill="#fbeed8" stroke="#111" stroke-width="0.9"/>
<rect x="156.4" y="216.6" width="9.3" height="3.2" fill="#fbeed8" stroke="#111" stroke-width="0.9"/>
<rect x="167.7" y="216.6" width="9.3" height="3.2" fill="#fbeed8" stroke="#111" stroke-width="0.9"/>
<rect x="179.0" y="216.6" width="9.3" height="3.2" fill="#fbeed8" stroke="#111" stroke-width="0.9"/>
<rect x="190.3" y="216.6" width="9.3" height="3.2" fill="#fbeed8" stroke="#111" stroke-width="0.9"/>
<rect x="201.6" y="216.6" width="9.3" height="3.2" fill="#fbeed8" stroke="#111" stroke-width="0.9"/>
<rect x="212.9" y="216.6" width="9.3" height="3.2" fill="#fbeed8" stroke="#111" stroke-width="0.9"/>
<rect x="224.2" y="216.6" width="9.3" height="3.2" fill="#fbeed8" stroke="#111" stroke-width="0.9"/>
<rect x="235.5" y="216.6" width="9.3" height="3.2" fill="#fbeed8" stroke="#111" stroke-width="0.9"/>
<path d="M113.5 209.3 Q112.8 200.5 116.0 197 Q119.2 200.5 118.5 209.3" fill="#eef6f8" stroke="#111" stroke-width="1.3"/>
<path d="M126.0 209.3 Q125.3 200.5 128.5 197 Q131.7 200.5 131.0 209.3" fill="#eef6f8" stroke="#111" stroke-width="1.3"/>
<path d="M138.5 209.3 Q137.8 200.5 141.0 197 Q144.2 200.5 143.5 209.3" fill="#eef6f8" stroke="#111" stroke-width="1.3"/>
<path d="M151.0 209.3 Q150.3 200.5 153.5 197 Q156.7 200.5 156.0 209.3" fill="#eef6f8" stroke="#111" stroke-width="1.3"/>
<path d="M163.5 209.3 Q162.8 200.5 166.0 197 Q169.2 200.5 168.5 209.3" fill="#eef6f8" stroke="#111" stroke-width="1.3"/>
<path d="M201.0 209.3 Q200.3 200.5 203.5 197 Q206.7 200.5 206.0 209.3" fill="#eef6f8" stroke="#111" stroke-width="1.3"/>
<path d="M213.5 209.3 Q212.8 200.5 216.0 197 Q219.2 200.5 218.5 209.3" fill="#eef6f8" stroke="#111" stroke-width="1.3"/>
<path d="M226.0 209.3 Q225.3 200.5 228.5 197 Q231.7 200.5 231.0 209.3" fill="#eef6f8" stroke="#111" stroke-width="1.3"/>
<path d="M238.5 209.3 Q237.8 200.5 241.0 197 Q244.2 200.5 243.5 209.3" fill="#eef6f8" stroke="#111" stroke-width="1.3"/>
<path d="M171.5 209 V204 Q171.5 199.5 175 199 Q179 199.5 179.5 204 V209" fill="none" stroke="#111" stroke-width="1.6"/>
<path d="M175.5 209 V204.5" stroke="#111" stroke-width="1.6"/>
<path d="M184 209 V204.5 Q184 198.5 189.5 197.5 Q195 198.5 195 204.5 V209" fill="none" stroke="#111" stroke-width="1.6"/>
<path d="M189.5 197.5 V209" stroke="#111" stroke-width="1" opacity="0.6"/>
<rect x="168.7" y="208.5" width="4.6" height="5.5" fill="#fff" stroke="#111" stroke-width="1.1"/>
<rect x="182.6" y="208.5" width="3.8" height="5.5" fill="#fff" stroke="#111" stroke-width="1.1"/>
<rect x="191.5" y="208.5" width="4.4" height="5.5" fill="#fff" stroke="#111" stroke-width="1.1"/>
<rect x="176.1" y="227" width="4.9" height="271" fill="#f6f4e2" stroke="#111" stroke-width="1.8"/>
<path d="M164.7 292 H184.7 V325.3 H161.3 V304 H164.7 Z" fill="#fff" stroke="#111" stroke-width="1.8"/>
<path d="M166.5 294 V303 M163 306 H173 M163 315 H172 M172.5 294 V325" stroke="#111" stroke-width="1.3"/>
<path d="M167 296 h3 v6 h-3 Z M164.5 309 h3 v4 h-3 Z M165 318 h4 v5 h-4 Z" fill="#111" opacity="0.6"/>
<rect x="175.3" y="292" width="6.4" height="33.3" fill="#f6f4e2"/>
<path d="M175.3 292 V325.3 M181.7 292 V325.3" stroke="#111" stroke-width="1.3"/>
<rect x="174.5" y="297" width="8" height="3.6" fill="#111"/>
<rect x="174.5" y="312.4" width="8" height="4.6" fill="#111" opacity="0.85"/>
<rect x="183" y="292" width="2.5" height="33.3" fill="#111"/>
<rect x="147" y="311.5" width="14.5" height="6.5" fill="#fff" stroke="#111" stroke-width="1.5"/>
<path d="M149 314 H160 M149 315.8 H160" stroke="#111" stroke-width="0.7"/>
<path d="M186.5 294 H204.5 L206.5 299.3 L204.5 304.7 H186.5 Z" fill="#ea5f4c" stroke="#111" stroke-width="1.2"/>
<rect x="187" y="295" width="2.2" height="9" fill="#fff"/>
<rect x="186.5" y="308" width="16.5" height="13" fill="#c8c4cb" stroke="#111" stroke-width="1.2"/>
<rect x="287" y="273" width="15.5" height="69.5" rx="3" fill="#a9c4d8" stroke="#111" stroke-width="1.4"/>
<path d="M288 276 H294.5 L293 300 L295 320 L294 341 H288 Z" fill="#e2dfe6"/>
<path d="M294.5 274 L293 300 L295 320 L294 342" fill="none" stroke="#111" stroke-width="1.2"/>
<path d="M287.5 264 L291.5 267.5 L287.5 271 Z M296 264 L292 267.5 L296 271 Z" fill="#111"/>
<path d="M297 342 V400 Q297 406 291 406 H272" fill="none" stroke="#111" stroke-width="5" stroke-linejoin="round" />
<path d="M297 342 V400 Q297 406 291 406 H272" fill="none" stroke="#e4e8f0" stroke-width="2.4" stroke-linejoin="round" />
<path d="M272 424 H282" stroke="#111" stroke-width="1.5"/>
<path d="M281 418 L291 418 L290 421 L286 421 L288 427 L283 425 Z" fill="#111"/>
<ellipse cx="270.8" cy="368.2" rx="9.3" ry="6.9" fill="#fff" stroke="#111" stroke-width="1.6"/>
<path d="M263.5 372.5 L270 362.8 L277 372.5 Z" fill="#33231f"/>
<path d="M277 364 Q281 364 281 360" fill="none" stroke="#111" stroke-width="1.3"/>
<rect x="275.3" y="352.5" width="7.7" height="8" fill="#fff" stroke="#111" stroke-width="1.3"/>
<path d="M281.5 352.5 V350.5" stroke="#111" stroke-width="1.2"/>
<path d="M116.5 357.5 H241 Q244 357.5 244 360.5 V387.5 Q244 391 240.5 391 H116.5 Q114.7 391 114.7 389 V360 Q114.7 357.5 116.5 357.5 Z" fill="#fff" stroke="#111" stroke-width="1.9"/>
<rect x="116" y="359" width="126.5" height="30.5" fill="url(#ghe)"/>
<path d="M118.5 360.80 H232.5" stroke="#2a1818" stroke-width="1.35"/>
<path d="M122 364.25 H232.5" stroke="#2a1818" stroke-width="1.35"/>
<path d="M118.5 367.70 H232.5" stroke="#2a1818" stroke-width="1.35"/>
<path d="M122 371.15 H232.5" stroke="#2a1818" stroke-width="1.35"/>
<path d="M118.5 374.60 H232.5" stroke="#2a1818" stroke-width="1.35"/>
<path d="M122 378.05 H232.5" stroke="#2a1818" stroke-width="1.35"/>
<path d="M118.5 381.50 H232.5" stroke="#2a1818" stroke-width="1.35"/>
<path d="M122 384.95 H232.5" stroke="#2a1818" stroke-width="1.35"/>
<path d="M118.5 388.40 H232.5" stroke="#2a1818" stroke-width="1.35"/>
<path d="M123.5 362.50 H232" stroke="url(#ghe2)" stroke-width="1.9"/>
<path d="M123.5 365.95 H232" stroke="url(#ghe2)" stroke-width="1.9"/>
<path d="M123.5 369.40 H232" stroke="url(#ghe2)" stroke-width="1.9"/>
<path d="M123.5 372.85 H232" stroke="url(#ghe2)" stroke-width="1.9"/>
<path d="M123.5 376.30 H232" stroke="url(#ghe2)" stroke-width="1.9"/>
<path d="M123.5 379.75 H232" stroke="url(#ghe2)" stroke-width="1.9"/>
<path d="M123.5 383.20 H232" stroke="url(#ghe2)" stroke-width="1.9"/>
<path d="M123.5 386.65 H232" stroke="url(#ghe2)" stroke-width="1.9"/>
<path d="M119.5 361 V389" stroke="#2a1818" stroke-width="1.1"/>
<rect x="233" y="359" width="9.8" height="31" fill="#fff"/>
<path d="M233.8 359.5 V391" stroke="#111" stroke-width="0.7" opacity="0.5"/>
<path d="M235.5 360.8 Q239.8 362.50 235.5 364.25 Q239.8 365.95 235.5 367.70 Q239.8 369.40 235.5 371.15 Q239.8 372.85 235.5 374.60 Q239.8 376.30 235.5 378.05 Q239.8 379.75 235.5 381.50 Q239.8 383.20 235.5 384.95 Q239.8 386.65 235.5 388.40" fill="none" stroke="#111" stroke-width="1.3"/>
<rect x="119.8" y="346.6" width="13" height="9.5" fill="#fff" stroke="#111" stroke-width="1.3"/>
<path d="M122 351 h3 M126 352 h4 M124 349 l3 1" stroke="#111" stroke-width="1"/>
<rect x="119.5" y="418" width="37.5" height="9" fill="#c2a0a8" stroke="#111" stroke-width="1.8"/>
<path d="M122 421 H154 M122 424 H154" stroke="#8a7078" stroke-width="0.8"/>
<rect x="121" y="428" width="12.5" height="9.5" fill="#fff" stroke="#111" stroke-width="1.5"/>
<path d="M124 431 H130 V435 M126.5 431 L125 435" fill="none" stroke="#111" stroke-width="1.3"/>
<path d="M125.5 391 V402 Q125.5 408.5 132 408.5 H157 Q163.5 408.5 163.5 415 V498" fill="none" stroke="#111" stroke-width="6" stroke-linejoin="round" />
<path d="M125.5 391 V402 Q125.5 408.5 132 408.5 H157 Q163.5 408.5 163.5 415 V498" fill="none" stroke="#e8acb7" stroke-width="3.2" stroke-linejoin="round" />
<path d="M135.5 391 V419" fill="none" stroke="#111" stroke-width="6" stroke-linejoin="round" />
<path d="M135.5 391 V419" fill="none" stroke="#e8acb7" stroke-width="3.2" stroke-linejoin="round" />
<path d="M149.7 480 V404 Q149.7 397 156.7 397 H201 Q208.5 397 208.5 404 V482" fill="none" stroke="#111" stroke-width="6" stroke-linejoin="round" />
<path d="M149.7 480 V404 Q149.7 397 156.7 397 H201 Q208.5 397 208.5 404 V482" fill="none" stroke="#d4d6e4" stroke-width="3.4" stroke-linejoin="round" />
<path d="M149.7 418.5 V480" stroke="url(#gpb2)" stroke-width="3.4"/>
<path d="M224.6 391 V413" fill="none" stroke="#111" stroke-width="6" stroke-linejoin="round" />
<path d="M224.6 391 V413" fill="none" stroke="#a9c4d8" stroke-width="3.4" stroke-linejoin="round" />
<path d="M210 427.8 H221" fill="none" stroke="#111" stroke-width="5.6" stroke-linejoin="round" />
<path d="M210 427.8 H221" fill="none" stroke="#c8d0e0" stroke-width="3.2" stroke-linejoin="round" />
<path d="M204 407 H212 Q213.6 407 213.6 409 V436 H202.4 V409 Q202.4 407 204 407 Z" fill="#c6cedd" stroke="#111" stroke-width="1.9"/>
<path d="M206.5 409 V434" stroke="#e6eaf2" stroke-width="1.3"/>
<path d="M194 416.5 L203 414.5 L206.5 419 L203 423 L199 425.3 L197 421 Z" fill="#111"/>
<circle cx="203.2" cy="419.5" r="1.9" fill="#a87a6a"/>
<path d="M217.7 414 H230.5 V432 H229.6 V438 H219.6 V432 H217.7 Z" fill="#111"/>
<rect x="220" y="414" width="7.7" height="12" fill="#b8c2d4"/>
<rect x="221" y="425" width="6" height="5.5" fill="#d6d0dc" stroke="#111" stroke-width="0.8"/>
<rect x="223.5" y="431" width="1.4" height="8" fill="#ddd"/>
<path d="M221 438 Q215 441 215 447.5 Q215 456.5 224.3 456.5 Q233.5 456.5 233.5 447.5 Q233.5 441 227.6 438 Z" fill="#fff" stroke="#111" stroke-width="1.4"/>
<text x="224.3" y="451.5" font-family="Liberation Sans" font-weight="bold" font-size="8.5" text-anchor="middle" fill="#111">M</text>
<rect x="229.4" y="399.8" width="15.3" height="10.6" fill="#fff" stroke="#111" stroke-width="1.5"/>
<circle cx="237" cy="405" r="3.3" fill="none" stroke="#111" stroke-width="1.1"/>
<path d="M234 396 V398 M240 396 V398" stroke="#111" stroke-width="1"/>
<path d="M236 410.5 V452 Q236 459 229 459 H200 Q195.3 459 195.3 464 V482" fill="none" stroke="#111" stroke-width="1.3"/>
<path d="M241.5 410.5 V456 Q241.5 464.5 233 464.5 H202 Q200 464.5 200 470" fill="none" stroke="#111" stroke-width="1.3"/>
<path d="M190.6 482 V458" fill="none" stroke="#111" stroke-width="1.3"/>
<path d="M205 440 Q193 440 192 452" fill="none" stroke="#111" stroke-width="4.5"/>
<path d="M205 440 Q193 440 192 452" fill="none" stroke="#eee" stroke-width="2"/>
<path d="M188 451 L192.5 454 L188 457 Z" fill="#fff" stroke="#111" stroke-width="1.2"/>
<path d="M198 451 L193.5 454 L198 457 Z" fill="#111"/>
<rect x="89.8" y="255.5" width="14.5" height="12" fill="#fff" stroke="#111" stroke-width="1.5"/>
<path d="M93.3 264.5 L100.3 258.5 H101.8 M96.8 261.0 q3.0 0.5 2.0 3.5" fill="none" stroke="#111" stroke-width="1.5"/>
<circle cx="94.3" cy="264.0" r="1.6" fill="#111"/>
<rect x="251.5" y="255.5" width="14.5" height="12" fill="#fff" stroke="#111" stroke-width="1.5"/>
<path d="M255.0 264.5 L262.0 258.5 H263.5 M258.5 261.0 q3.0 0.5 2.0 3.5" fill="none" stroke="#111" stroke-width="1.5"/>
<circle cx="256.0" cy="264.0" r="1.6" fill="#111"/>
<rect x="110" y="393.5" width="12" height="10" fill="#fff" stroke="#111" stroke-width="1.5"/>
<path d="M112.9 400.9 L118.7 396.0 H119.9 M115.8 398.1 q2.5 0.4 1.7 2.9" fill="none" stroke="#111" stroke-width="1.5"/>
<circle cx="113.7" cy="400.5" r="1.6" fill="#111"/>
<rect x="139.5" y="466" width="4" height="3.4" fill="#f0f0f0" stroke="#8c8c8c" stroke-width="0.9"/>
<rect x="154.5" y="466" width="4" height="3.4" fill="#f0f0f0" stroke="#8c8c8c" stroke-width="0.9"/>
<rect x="169" y="466" width="4" height="3.4" fill="#f0f0f0" stroke="#8c8c8c" stroke-width="0.9"/>
<rect x="183.5" y="466" width="4" height="3.4" fill="#f0f0f0" stroke="#8c8c8c" stroke-width="0.9"/>
<rect x="198.4" y="466" width="4" height="3.4" fill="#f0f0f0" stroke="#8c8c8c" stroke-width="0.9"/>
<path d="M143.0 481.8 h3 l3.5 5 l-3.5 5 h-3 Z M156.0 481.8 h-3 l-3.5 5 l3.5 5 h3 Z" fill="#111"/>
<path d="M145.5 483.3 L148.5 486.8 L145.5 490.3 Z" fill="#fff"/>
<path d="M145.5 493.5 V498 M149.0 493.5 V498 M152.5 493.5 V498" stroke="#111" stroke-width="1.2"/>
<path d="M171.2 481.8 h3 l3.5 5 l-3.5 5 h-3 Z M184.2 481.8 h-3 l-3.5 5 l3.5 5 h3 Z" fill="#111"/>
<path d="M173.7 483.3 L176.7 486.8 L173.7 490.3 Z" fill="#fff"/>
<path d="M173.7 493.5 V498 M177.2 493.5 V498 M180.7 493.5 V498" stroke="#111" stroke-width="1.2"/>
<path d="M187.0 481.8 h3 l3.5 5 l-3.5 5 h-3 Z M200.0 481.8 h-3 l-3.5 5 l3.5 5 h3 Z" fill="#111"/>
<path d="M189.5 483.3 L192.5 486.8 L189.5 490.3 Z" fill="#fff"/>
<path d="M189.5 493.5 V498 M193.0 493.5 V498 M196.5 493.5 V498" stroke="#111" stroke-width="1.2"/>
<path d="M201.5 481.8 h3 l3.5 5 l-3.5 5 h-3 Z M214.5 481.8 h-3 l-3.5 5 l3.5 5 h3 Z" fill="#111"/>
<path d="M204 483.3 L207 486.8 L204 490.3 Z" fill="#fff"/>
<path d="M204 493.5 V498 M207.5 493.5 V498 M211 493.5 V498" stroke="#111" stroke-width="1.2"/>
<path d="M163.8 501 V510 M160.5 506.5 L163.8 511.5 L167 506.5" fill="none" stroke="#d83a28" stroke-width="1.6"/>
<path d="M178.5 512 V504 M175.3 506 L178.5 501 L181.7 506 Z" fill="#f6ec90" stroke="#e8d040" stroke-width="1.2"/>
<path d="M193.8 512 V502 M190.6 505.5 L193.8 501 L197 505.5" fill="none" stroke="#b0b0a0" stroke-width="1.2"/>
</g>
<text x="331.8" y="25.9" font-size="21" textLength="163.8" lengthAdjust="spacingAndGlyphs" font-family="Liberation Sans" font-weight="bold" fill="#111">Схема котла</text>
<text x="104.6" y="530" font-size="12.6" textLength="158.4" lengthAdjust="spacingAndGlyphs" font-family="Liberation Sans" font-weight="bold" fill="#111">С закрытой камерой</text>
<text x="120.6" y="547.6" font-size="12.6" textLength="138.8" lengthAdjust="spacingAndGlyphs" font-family="Liberation Sans" font-weight="bold" fill="#111">сгорания, (Turbo).</text>
<text x="38.8" y="571" font-size="12.6" textLength="308" lengthAdjust="spacingAndGlyphs" font-family="Liberation Sans" font-weight="bold" fill="#111">Воздух для горения подается из улицы.</text>
<text x="69.1" y="593.8" font-size="12.6" textLength="5.8" lengthAdjust="spacingAndGlyphs" font-family="Liberation Sans" font-weight="bold" fill="#111">-</text>
<text x="83.5" y="596" font-size="12.6" textLength="160.2" lengthAdjust="spacingAndGlyphs" font-family="Liberation Sans" font-weight="bold" fill="#111">Воздух для горения .</text>
<text x="78.2" y="618" font-size="12.6" textLength="159.4" lengthAdjust="spacingAndGlyphs" font-family="Liberation Sans" font-weight="bold" fill="#111">- Продукты горения.</text>
<text x="567.1" y="554" font-size="12.6" textLength="170.2" lengthAdjust="spacingAndGlyphs" font-family="Liberation Sans" font-weight="bold" fill="#111">С открытой кеамерой</text>
<text x="586.8" y="573" font-size="12.6" textLength="134.5" lengthAdjust="spacingAndGlyphs" font-family="Liberation Sans" font-weight="bold" fill="#111">сгорвния, (Atmo).</text>
<text x="476.7" y="597.6" font-size="12.6" textLength="352.3" lengthAdjust="spacingAndGlyphs" font-family="Liberation Sans" font-weight="bold" fill="#111">Воздух для горения подается из помешения.</text>
<circle cx="109.6" cy="603" r="1.3" fill="#111"/>
<g transform="translate(42,595.5) rotate(160) scale(0.9)"><path d="M0 0 L-11 -4.2 L-11 4.2 Z" fill="#e2f4f4" stroke="#7fc4cc" stroke-width="1.3" stroke-linejoin="round"/><path d="M-3 -0.8 L-9 -2.6 M-3.5 0.9 L-9 2.6 M-6 -2 V2 M-8.5 -3 V3" stroke="#7fc4cc" stroke-width="0.7"/><path d="M-11 0 H-21" stroke="#7fc4cc" stroke-width="2.6" stroke-dasharray="1.6 0.8"/></g>
<g transform="translate(60,612)"><path d="M0 0 L-9 -4 L-9 4 Z" fill="#f8e4de" stroke="#c89088" stroke-width="1.1"/><path d="M-9 0 H-19" stroke="#d09088" stroke-width="1.8" stroke-dasharray="2 1.2"/></g>
</svg></body></html>
